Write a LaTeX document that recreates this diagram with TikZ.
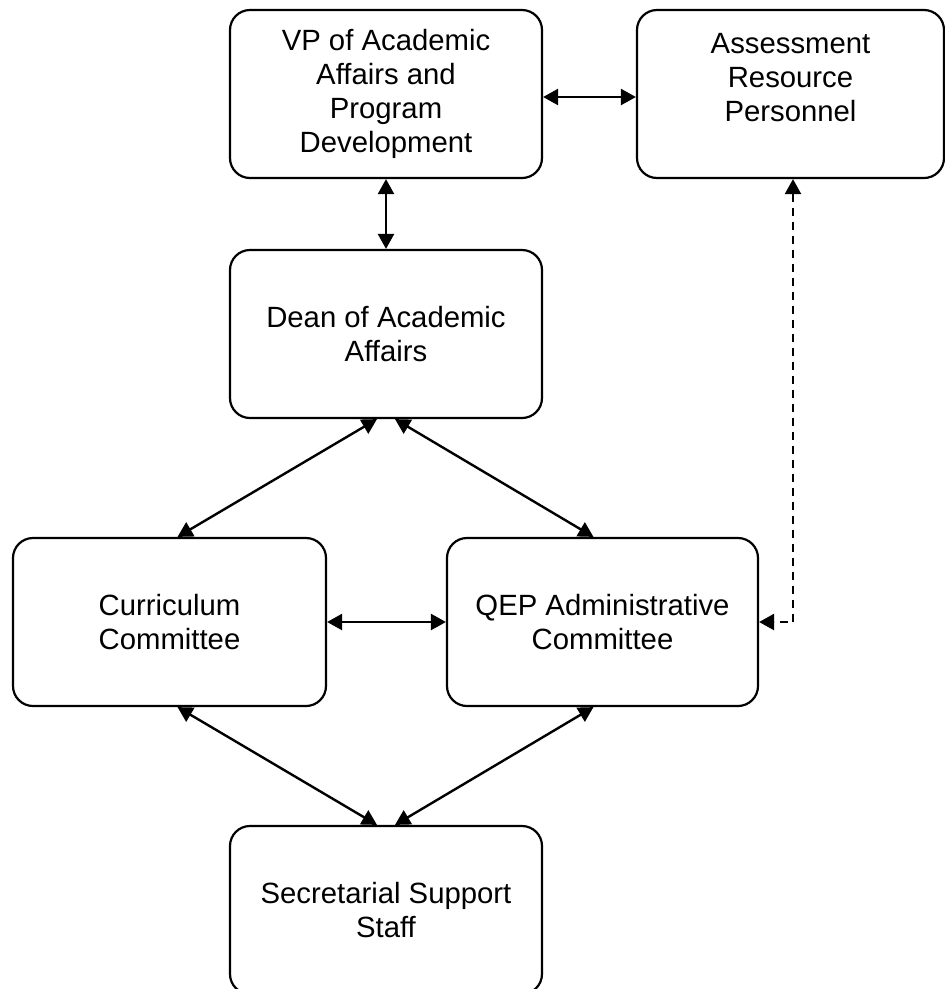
\documentclass[tikz,border=0pt]{standalone}
\usepackage{fontspec}
\setmainfont{Liberation Sans}
\usetikzlibrary{arrows.meta}
\begin{document}
\begin{tikzpicture}[x=1pt,y=-1pt,
  orgbox/.style={draw,line width=2.2pt,rounded corners=20pt,minimum height=168pt,
    align=center,inner sep=0pt,font=\fontsize{29.3}{34}\selectfont},
  tip/.style={Triangle[length=15pt,width=16pt]},
  link/.style={line width=2.4pt,{Triangle[length=15pt,width=16pt]}-{Triangle[length=15pt,width=16pt]}},
  dashlink/.style={line width=2.4pt,dash pattern=on 8pt off 6pt,{Triangle[length=15pt,width=16pt]}-{Triangle[length=15pt,width=16pt]}}]
\useasboundingbox (0,0) rectangle (945,989);
\node[orgbox,minimum width=312pt] (vp) at (386,94) {VP of Academic\\Affairs and\\Program\\Development};
\node[orgbox,minimum width=307pt] (ar) at (790.5,94) {Assessment\\Resource\\Personnel\\~};
\node[orgbox,minimum width=312pt] (dean) at (386,334) {Dean of Academic\\Affairs};
\node[orgbox,minimum width=313pt] (cur) at (169.5,622) {Curriculum\\Committee};
\node[orgbox,minimum width=311pt] (qep) at (602.5,622) {QEP Administrative\\Committee};
\node[orgbox,minimum width=312pt] (sec) at (386,910) {Secretarial Support\\Staff};
\draw[link] ([yshift=-3pt]vp.east) -- ([yshift=-3pt]ar.west);
\draw[link] (vp.south) -- (dean.north);
\draw[link] ([xshift=-9pt]dean.south) -- ([xshift=8pt]cur.north);
\draw[link] ([xshift=9pt]dean.south) -- ([xshift=-9pt]qep.north);
\draw[link] (cur.east) -- (qep.west);
\draw[link] ([xshift=8pt]cur.south) -- ([xshift=-9pt]sec.north);
\draw[link] ([xshift=-9pt]qep.south) -- ([xshift=9pt]sec.north);
\draw[dashlink] ([xshift=2.5pt]ar.south) |- (qep.east);
\end{tikzpicture}
\end{document}
